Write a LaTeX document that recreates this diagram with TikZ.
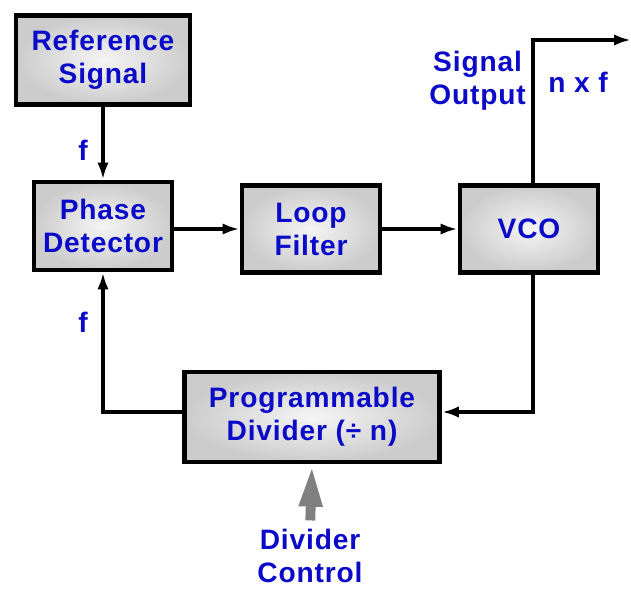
\documentclass[tikz,border=0pt]{standalone}
\usepackage{fontspec}
\setmainfont{Liberation Sans}
\newfontfamily\pllfont[LetterSpace=3]{Liberation Sans}
\usetikzlibrary{arrows.meta}

\definecolor{pllblue}{RGB}{10,10,200}
\definecolor{ctrlgray}{RGB}{128,128,128}

\tikzset{
    block/.style={draw=black, line width=3.5pt, shading=radial,
        inner color=gray!8, outer color=gray!40,
        text=pllblue, align=center, inner sep=0pt,
        font=\pllfont\bfseries\fontsize{20}{23.5}\selectfont},
    lbl/.style={text=pllblue, align=center, inner sep=0pt,
        font=\pllfont\bfseries\fontsize{20}{23.5}\selectfont},
    conn/.style={line width=2.9pt, -{Latex[length=12pt,width=8pt]}}
}

\begin{document}
\begin{tikzpicture}[x=0.025cm, y=-0.025cm]
    \useasboundingbox (0,0) rectangle (631,590);

    % blocks
    \node[block, minimum width=4.35cm, minimum height=2.22cm] (ref) at (103,60) {Reference\\Signal};
    \node[block, minimum width=3.45cm, minimum height=2.2cm] (pd) at (103,226) {Phase\\Detector};
    \node[block, minimum width=3.45cm, minimum height=2.17cm] (lf) at (311,229) {Loop\\Filter};
    \node[block, minimum width=3.45cm, minimum height=2.17cm] (vco) at (529,229) {VCO};
    \node[block, minimum width=6.37cm, minimum height=2.25cm] (div) at (312,417) {Programmable\\Divider (÷ n)};

    % corner points
    \coordinate (o1) at (533,40);
    \coordinate (o2) at (631,40);
    \coordinate (b1) at (533,412);
    \coordinate (b2) at (103,412);

    \draw[conn] (ref) -- (pd);
    \draw[conn] (pd.east |- lf.west) -- (lf.west);
    \draw[conn] (lf) -- (vco);
    \draw[conn] (vco.north -| o1) -- (o1) -- (o2);
    \draw[conn] (vco.south -| b1) -- (b1) -- (b1 -| div.east);
    \draw[conn] (b2 -| div.west) -- (b2) -- (pd.south);

    % labels
    \node[lbl] (f1) at (83,150) {f};
    \node[lbl] (f2) at (83,322) {f};
    \node[lbl, anchor=east] (sigout) at (526,81) {Signal\\Output};
    \node[lbl] (nxf) at (578,82) {n x f};
    \node[lbl] (ctrl) at (310,556) {Divider\\Control};

    \draw[ctrlgray, line width=7pt, -{Triangle[length=30pt,width=15pt]}, shorten <=6pt] (ctrl.north) -- (div.south);
\end{tikzpicture}
\end{document}
